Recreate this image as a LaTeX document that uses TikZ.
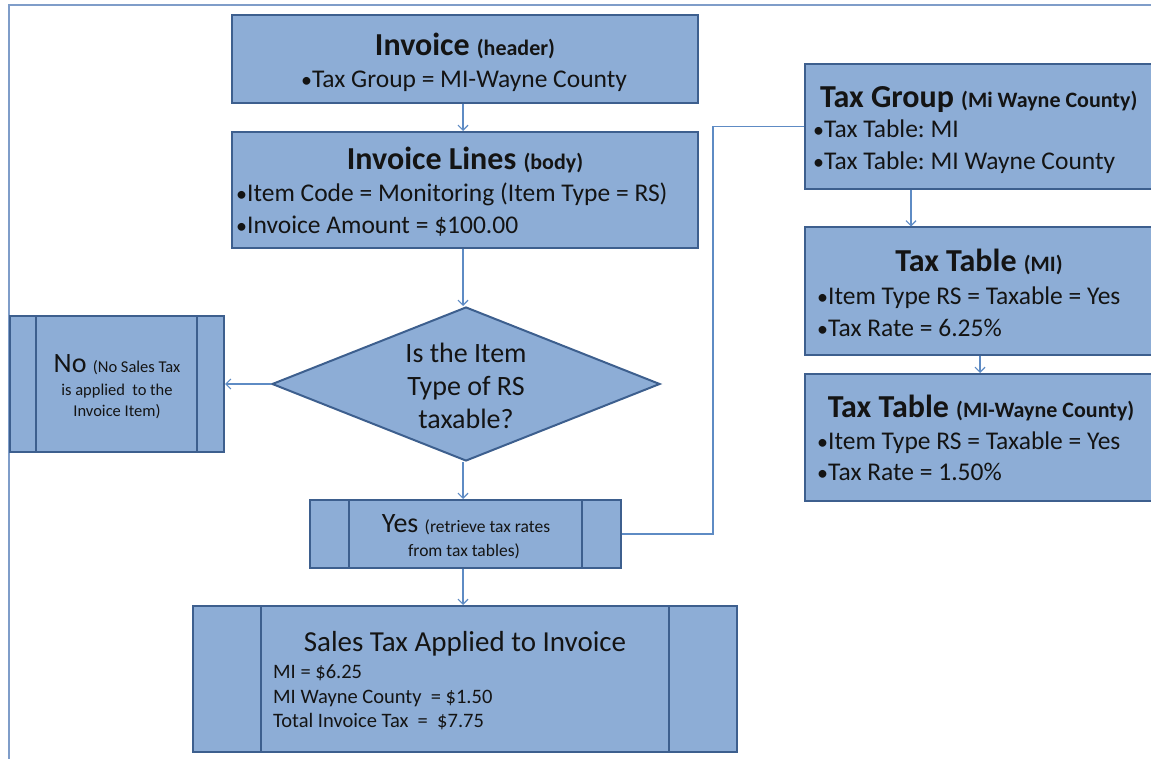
\documentclass[tikz,border=0pt]{standalone}
\usepackage{fontspec}
\setmainfont{Carlito}
\usetikzlibrary{shapes.geometric,arrows.meta}
\definecolor{fillc}{HTML}{8DADD6}
\definecolor{bordc}{HTML}{3D5F8E}
\definecolor{connc}{HTML}{5E8BC4}
\definecolor{framec}{HTML}{7F9DC9}
\definecolor{txtc}{HTML}{141414}
\tikzset{
  box/.style={draw=bordc, fill=fillc, line width=2pt, rectangle, inner sep=0pt},
  inner/.style={draw=bordc, line width=2pt},
  conn/.style={draw=connc, line width=1.2pt, -{Straight Barb[length=5pt,width=10pt]}},
  plain/.style={draw=connc, line width=1.2pt},
  txt/.style={inner sep=0pt, text=txtc},
  body/.style={font=\fontsize{25.5}{30}\selectfont},
  small/.style={font=\fontsize{17.5}{20}\selectfont},
  sales/.style={font=\fontsize{20.5}{24}\selectfont},
}
\newcommand{\sm}[1]{{\fontsize{22}{24}\selectfont #1}}
\newcommand{\ttl}{\fontsize{32}{36}\selectfont\bfseries}
\newcommand{\bul}{{\fontsize{22}{22}\selectfont •}}
\frenchspacing
\begin{document}
\begin{tikzpicture}[x=1pt,y=-1pt]
\useasboundingbox (0,0) rectangle (1151,759);
\clip (0,0) rectangle (1151,759);
% frame
\draw[framec, line width=1.5pt] (8,5) -- (1155,5);
\draw[framec, line width=1.5pt] (9,5) -- (9,762);

% Invoice header
\node[box, minimum width=466pt, minimum height=88pt] (inv) at (465,59) {};
\node[txt, anchor=base] (invT) at (465,56) {\ttl Invoice \sm{(header)}};
\node[txt, anchor=base, body] (invB) at (464,88) {\bul Tax Group = MI-Wayne County};

% Invoice lines
\node[box, minimum width=466pt, minimum height=116pt] (lines) at (465,190) {};
\node[txt, anchor=base] (linT) at (465,170) {\ttl Invoice Lines \sm{(body)}};
\node[txt, anchor=base west, body] (linB1) at (236,202) {\bul Item Code = Monitoring (Item Type = RS)};
\node[txt, anchor=base west, body] (linB2) at (236,234) {\bul Invoice Amount = \$100.00};

% Diamond
\node[diamond, draw=bordc, fill=fillc, line width=2pt, inner sep=0pt, minimum width=388pt, minimum height=154pt, aspect=2.52] (dec) at (466,384) {};
\node[txt, align=center, font=\fontsize{28}{33}\selectfont] (decT) at (466,386) {Is the Item\\Type of RS\\taxable?};

% No box
\node[box, minimum width=214pt, minimum height=136pt] (no) at (117,384) {};
\draw[inner] (36,316) -- (36,452);
\draw[inner] (197,316) -- (197,452);
\node[txt, anchor=base] (noT1) at (117,372) {\fontsize{28}{30}\selectfont No \fontsize{16.5}{18}\selectfont(No Sales Tax};
\node[txt, anchor=base, font=\fontsize{16.5}{18}\selectfont] (noT2) at (117,395) {is applied~ to the};
\node[txt, anchor=base, font=\fontsize{16.5}{18}\selectfont] (noT3) at (117,416) {Invoice Item)};

% Yes box
\node[box, minimum width=311pt, minimum height=68pt] (yes) at (465.5,534) {};
\draw[inner] (349,500) -- (349,568);
\draw[inner] (582,500) -- (582,568);
\node[txt, anchor=base] (yesT1) at (466,532) {\fontsize{28}{30}\selectfont Yes \fontsize{17.5}{20}\selectfont(retrieve tax rates};
\node[txt, anchor=base, small] (yesT2) at (464,556) {from tax tables)};

% Sales tax box
\node[box, minimum width=544pt, minimum height=146pt] (sales) at (465,679) {};
\draw[inner] (261,606) -- (261,752);
\draw[inner] (669,606) -- (669,752);
\node[txt, anchor=base, font=\fontsize{29}{32}\selectfont] (salT) at (465,651) {Sales Tax Applied to Invoice};
\node[txt, anchor=base west, sales] (sal1) at (273,678) {MI = \$6.25};
\node[txt, anchor=base west, sales] (sal2) at (273,703) {MI Wayne County~ = \$1.50};
\node[txt, anchor=base west, sales] (sal3) at (273,727) {Total Invoice Tax~ = ~\$7.75};

% Tax group
\node[box, minimum width=360pt, minimum height=125pt] (tg) at (985,126.5) {};
\node[txt, anchor=base west] (tgT) at (820,108) {\ttl Tax Group \sm{(Mi Wayne County)}};
\node[txt, anchor=base west, body] (tg1) at (813,138) {\bul Tax Table: MI};
\node[txt, anchor=base west, body] (tg2) at (813,170) {\bul Tax Table: MI Wayne County};

% Tax table MI
\node[box, minimum width=360pt, minimum height=127pt] (tmi) at (985,291) {};
\node[txt, anchor=base] (tmiT) at (979,272) {\ttl Tax Table \sm{(MI)}};
\node[txt, anchor=base west, body] (tmi1) at (817,305) {\bul Item Type RS = Taxable = Yes};
\node[txt, anchor=base west, body] (tmi2) at (817,337) {\bul Tax Rate = 6.25\%};

% Tax table MI-Wayne
\node[box, minimum width=360pt, minimum height=127pt] (tmw) at (985,437.5) {};
\node[txt, anchor=base] (tmwT) at (981,417) {\ttl Tax Table \sm{(MI-Wayne County)}};
\node[txt, anchor=base west, body] (tmw1) at (817,449) {\bul Item Type RS = Taxable = Yes};
\node[txt, anchor=base west, body] (tmw2) at (817,480) {\bul Tax Rate = 1.50\%};

% connectors
\coordinate (cx) at (463,0);
\draw[conn] (cx |- inv.south) -- (cx |- lines.north);
\draw[conn] (cx |- lines.south) -- (cx |- dec.north);
\draw[conn] (dec.west) -- (no.east);
\draw[conn] (cx |- dec.south) -- (cx |- yes.north);
\draw[conn] (cx |- yes.south) -- (cx |- sales.north);
\coordinate (jx) at (713,0);
\draw[plain] (yes.east) -| (jx |- tg.west) -- (tg.west);
\coordinate (ax) at (911,0);
\draw[conn] (ax |- tg.south) -- (ax |- tmi.north);
\coordinate (bx) at (980,0);
\draw[conn] (bx |- tmi.south) -- (bx |- tmw.north);
\end{tikzpicture}
\end{document}
